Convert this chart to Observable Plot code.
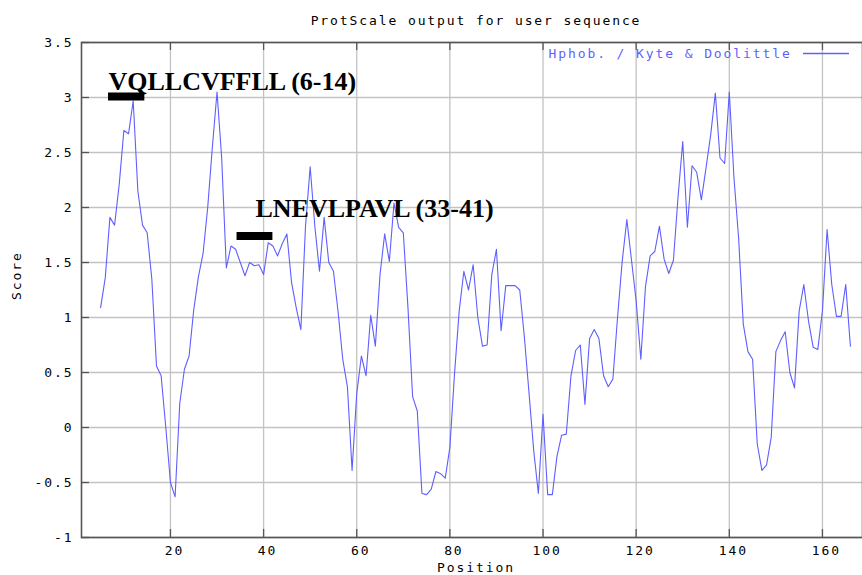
<!DOCTYPE html>
<html>
<head>
<meta charset="utf-8">
<script src="https://cdn.jsdelivr.net/npm/d3@7"></script>
<script src="https://cdn.jsdelivr.net/npm/@observablehq/plot@0.6"></script>
<style>
  body { margin: 0; background: #fff; }
  #chart svg { letter-spacing: 1.9px; }
  #chart svg g[font-weight="bold"] { letter-spacing: 0; }
</style>
</head>
<body>
<div id="chart"></div>
<script>
// ---- data ----
const positions = [
  5,6,7,8,9,10,11,12,13,14,15,16,17,18,19,20,21,22,23,24,25,26,27,28,29,30,
  31,32,33,34,35,36,37,38,39,40,41,42,43,44,45,46,47,48,49,50,51,52,53,54,55,
  56,57,58,59,60,61,62,63,64,65,66,67,68,69,70,71,72,73,74,75,76,77,78,79,80,
  81,82,83,84,85,86,87,88,89,90,91,92,93,94,95,96,97,98,99,100,101,102,103,104,105,
  106,107,108,109,110,111,112,113,114,115,116,117,118,119,120,121,122,123,124,125,
  126,127,128,129,130,131,132,133,134,135,136,137,138,139,140,141,142,143,144,145,
  146,147,148,149,150,151,152,153,154,155,156,157,158,159,160,161,162,163,164,165,166
];
const scores = [
  1.09,1.36,1.91,1.84,2.21,2.70,2.67,2.97,2.15,1.84,1.77,1.35,0.56,0.47,0.00,-0.50,-0.63,0.22,0.53,0.65,1.07,1.37,1.58,2.00,2.55,3.05,
  2.45,1.45,1.65,1.62,1.50,1.38,1.50,1.47,1.48,1.39,1.68,1.65,1.56,1.67,1.76,1.32,1.09,0.89,1.83,2.37,1.83,1.42,1.91,1.50,1.42,
  1.05,0.62,0.37,-0.39,0.31,0.65,0.47,1.02,0.74,1.39,1.76,1.51,2.04,1.82,1.77,1.09,0.28,0.15,-0.60,-0.61,-0.56,-0.40,-0.42,-0.46,-0.18,
  0.49,1.06,1.42,1.25,1.48,1.00,0.74,0.75,1.39,1.62,0.88,1.29,1.29,1.29,1.25,0.82,0.31,-0.21,-0.60,0.12,-0.61,-0.61,-0.26,-0.07,-0.06,
  0.47,0.70,0.75,0.21,0.81,0.89,0.81,0.47,0.37,0.44,1.00,1.51,1.89,1.52,1.15,0.62,1.28,1.56,1.60,1.83,
  1.53,1.40,1.52,2.10,2.60,1.82,2.38,2.32,2.07,2.36,2.66,3.04,2.45,2.40,3.05,2.27,1.72,0.94,0.69,0.62,
  -0.15,-0.39,-0.34,-0.09,0.69,0.79,0.87,0.50,0.36,1.06,1.30,0.97,0.73,0.71,1.06,1.80,1.30,1.01,1.01,1.30,0.74
];
const xTicks = [20, 40, 60, 80, 100, 120, 140, 160];
const yTicks = [-1, -0.5, 0, 0.5, 1, 1.5, 2, 2.5, 3, 3.5];
const title = "ProtScale output for user sequence";
const xLabel = "Position";
const yLabel = "Score";
const seriesName = "Hphob. / Kyte & Doolittle";
const regionLabels = ["VQLLCVFFLL (6-14)", "LNEVLPAVL (33-41)"];
const regionStart = [6.7, 34.3];
const regionEnd = [14.5, 42.0];
const regionBarY = [3.01, 1.74];
const regionLabelX = [6.69, 38.25];
const regionLabelY = [3.064, 1.918];

// ---- build tables ----
const data = positions.map((p, i) => ({position: p, score: scores[i]}));
const regions = regionLabels.map((label, i) => ({
  label, start: regionStart[i], end: regionEnd[i], barY: regionBarY[i],
  lx: regionLabelX[i], ly: regionLabelY[i]
}));

const blue = "#5f5fff";
const frameColor = "#555555";
const gridColor = "#c3c3c3";
const mono = "'DejaVu Sans Mono', monospace";

const chart = Plot.plot({
  width: 862,
  height: 575,
  marginLeft: 81,
  marginRight: 0,
  marginTop: 42,
  marginBottom: 38,
  x: {domain: [0.9, 168.6], axis: null},
  y: {domain: [-1, 3.5], axis: null},
  style: {fontFamily: mono, fontSize: "13px", background: "white", color: "black"},
  marks: [
    Plot.ruleX(xTicks, {stroke: gridColor, strokeWidth: 1.3}),
    Plot.ruleY(yTicks, {stroke: gridColor, strokeWidth: 1.3}),
    Plot.ruleX(xTicks, {stroke: frameColor, strokeWidth: 1.3, insetBottom: 487}),
    Plot.ruleX(xTicks, {stroke: frameColor, strokeWidth: 1.3, insetTop: 487}),
    Plot.ruleY(yTicks, {stroke: frameColor, strokeWidth: 1.3, insetRight: 773}),
    Plot.frame({stroke: frameColor, strokeWidth: 1.6}),
    Plot.line(data, {x: "position", y: "score", stroke: blue, strokeWidth: 1.1}),
    Plot.ruleY(regions, {y: "barY", x1: "start", x2: "end", stroke: "black", strokeWidth: 8}),
    Plot.text(regions, {
      x: "lx", y: "ly", text: "label", textAnchor: "start", lineAnchor: "bottom",
      fontFamily: "'Liberation Serif', 'Times New Roman', serif", fontWeight: "bold",
      fontSize: 26, fill: "black"
    }),
    Plot.text(yTicks, {y: d => d, text: d => String(d), frameAnchor: "left", textAnchor: "end", lineAnchor: "middle", dx: -8, fill: "black"}),
    Plot.text(xTicks, {x: d => d, text: d => String(d), frameAnchor: "bottom", lineAnchor: "middle", dy: 13, dx: 4, fill: "black"}),
    Plot.text([title], {text: d => d, frameAnchor: "top", lineAnchor: "middle", dy: -22, dx: 4, fill: "black"}),
    Plot.text([xLabel], {text: d => d, frameAnchor: "bottom", lineAnchor: "middle", dy: 30, dx: 4, fill: "black"}),
    Plot.text([yLabel], {text: d => d, frameAnchor: "left", lineAnchor: "middle", rotate: -90, dx: -65, dy: 10, fill: "black"}),
    Plot.text([seriesName], {text: d => d, frameAnchor: "top-right", textAnchor: "start", lineAnchor: "middle", dx: -314, dy: 11, fill: blue}),
    Plot.ruleY([seriesName], {y: () => 3.4, stroke: blue, strokeWidth: 1.4, insetLeft: 722, insetRight: 13})
  ]
});
document.getElementById("chart").appendChild(chart);
</script>
</body>
</html>
